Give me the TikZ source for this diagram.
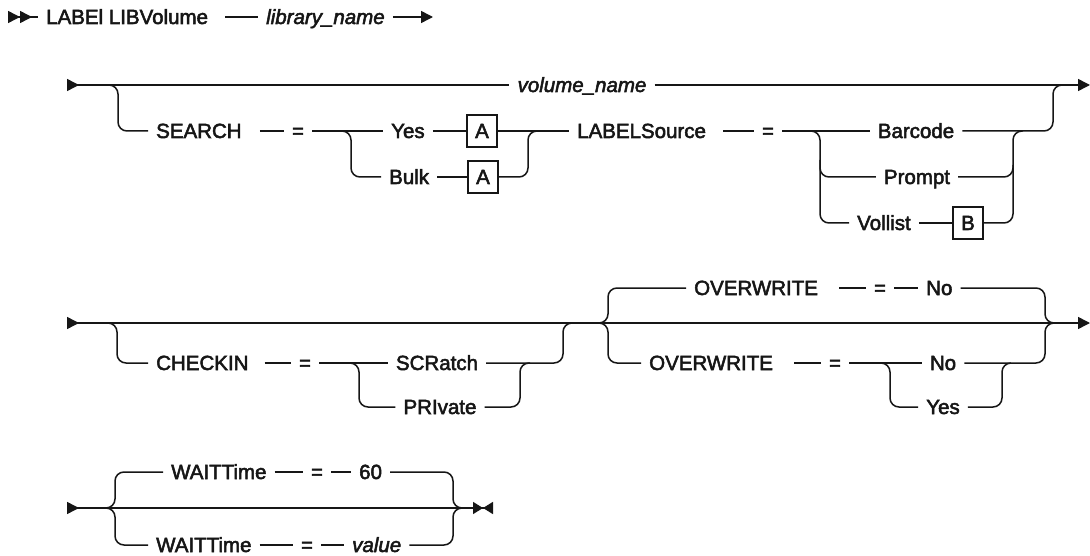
\documentclass[tikz,border=0pt]{standalone}
\usepackage{fontspec}
\setmainfont{Liberation Sans}[FakeBold=2.5]
\usetikzlibrary{arrows.meta}
\definecolor{inkdark}{RGB}{22, 22, 22}
\newcommand{\railfont}{\fontsize{20.5}{24}\selectfont}

\begin{document}
\begin{tikzpicture}[
    x=1pt, y=-1pt,
    kw/.style={font=\railfont, text=inkdark, inner xsep=8pt, inner ysep=0pt, text height=14pt, text depth=0pt},
    var/.style={kw, font=\railfont\itshape},
    refbox/.style={kw, draw=inkdark, line width=1.5pt, minimum width=30pt, minimum height=32pt, inner xsep=0pt},
    rail/.style={line width=1.5pt, draw=inkdark, rounded corners=9pt},
    railin/.style={rail, {Triangle[reversed, length=12pt, width=12pt]}-},
    railout/.style={rail, -{Triangle[length=12pt, width=12pt]}},
    railboth/.style={rail, {Triangle[reversed, length=12pt, width=12pt]}-{Triangle[length=12pt, width=12pt]}},
    railfirst/.style={rail, {Triangle[reversed, length=12pt, width=12pt]Triangle[reversed, length=12pt, width=12pt]}-},
    railstop/.style={rail, {Triangle[reversed, length=12pt, width=12pt]}-{Triangle[length=10pt, width=12pt]Triangle[reversed, length=10pt, width=12pt]}},
]
\useasboundingbox (0,0) rectangle (1090,556);

\coordinate (st1) at (8,17);
\coordinate (en1) at (433,17);
\node[kw, anchor=west] (lbl) at (38,17) {LABEl LIBVolume\kern9pt};
\node[var, anchor=west] (lib) at (258,17) {library\_name};

\draw[railfirst] (st1) -- (lbl.west);
\draw[rail] (lbl.east) -- (lib.west);
\draw[railout] (lib.east) -- (en1);

\coordinate (st2) at (67,85);
\coordinate (en2) at (1090,85);
\node[var] (vol) at (582,85) {volume\_name};

\coordinate (f2a) at (108,85);
\coordinate (f2b) at (118,131);
\node[kw, anchor=west] (srch) at (148,131) {SEARCH\kern10pt};
\node[kw] (eq1) at (298,131) {=};
\node[kw, anchor=west] (yes) at (383,131) {Yes};
\node[kw, anchor=west] (bulk) at (381,177) {Bulk};
\node[refbox] (boxa1) at (482,131) {A};
\node[refbox] (boxa2) at (483,177) {A};
\coordinate (f3a) at (341,131);
\coordinate (f3b) at (351,177);
\coordinate (j3a) at (528,131);
\coordinate (j3b) at (538,131);

\node[kw, anchor=west] (lbs) at (569,131) {LABELSource\kern9pt};
\node[kw] (eq2) at (768,131) {=};
\node[kw] (bar) at (916,131) {Barcode};
\node[kw] (prm) at (917,177) {Prompt};
\node[kw, anchor=west] (vll) at (849,223) {Vollist};
\node[refbox] (boxb) at (968,223) {B};
\coordinate (f4a) at (810,131);
\coordinate (f4b) at (820,223);
\coordinate (f4c) at (820,160);
\coordinate (j4a) at (1013,131);
\coordinate (j4b) at (1023,131);
\coordinate (j4c) at (1013,165);
\coordinate (j5a) at (1053,85);
\coordinate (j5b) at (1063,85);

\draw[railin] (st2) -- (vol.west);
\draw[railout] (vol.east) -- (en2);
\draw[rail] (f2a) -| (f2b) -- (srch.west);
\draw[rail] (srch.east) -- (eq1.west);
\draw[rail] (eq1.east) -- (yes.west);
\draw[rail] (f3a) -| (f3b) -- (bulk.west);
\draw[rail] (yes.east) -- (boxa1.west);
\draw[rail] (bulk.east) -- (boxa2.west);
\draw[rail] (boxa1.east) -- (lbs.west);
\draw[rail] (boxa2.east) -| (j3a) -- (j3b);
\draw[rail] (lbs.east) -- (eq2.west);
\draw[rail] (eq2.east) -- (bar.west);
\draw[rail] (f4a) -| (f4b) -- (vll.west);
\draw[rail] (f4c) |- (prm.west);
\draw[rail] (vll.east) -- (boxb.west);
\draw[rail] (boxb.east) -| (j4a) -- (j4b);
\draw[rail] (prm.east) -| (j4c);
\draw[rail] (bar.east) -| (j5a) -- (j5b);

\coordinate (st3) at (67,323);
\coordinate (en3) at (1090,323);
\coordinate (f5a) at (108,323);
\coordinate (f5b) at (117,363);
\node[kw, anchor=west] (chk) at (148,363) {CHECKIN\kern8pt};
\node[kw] (eq3) at (305,363) {=};
\node[kw] (scr) at (437,363) {SCRatch};
\node[kw] (prv) at (440,407) {PRIvate};
\coordinate (f6a) at (350,363);
\coordinate (f6b) at (359,407);
\coordinate (j6a) at (520,363);
\coordinate (j6b) at (530,363);
\coordinate (j7a) at (563,323);
\coordinate (j7b) at (572,323);

\coordinate (g1a) at (599,323);
\coordinate (g1b) at (608,288);
\coordinate (g1c) at (608,363);
\node[kw, anchor=west] (ow1) at (686,288) {OVERWRITE\kern13pt};
\node[kw] (eq4) at (880,288) {=};
\node[kw, anchor=west] (no1) at (918,288) {No};
\node[kw, anchor=west] (ow2) at (641,363) {OVERWRITE\kern13pt};
\node[kw] (eq5) at (835,363) {=};
\node[kw] (no2) at (943,363) {No};
\node[kw] (yes2) at (943,407) {Yes};
\coordinate (f7a) at (881,363);
\coordinate (f7b) at (890,407);
\coordinate (j8a) at (1002,363);
\coordinate (j8b) at (1011,363);
\coordinate (r1a) at (1045,323);
\coordinate (r1b) at (1054,323);

\draw[railboth] (st3) -- (en3);
\draw[rail] (f5a) -| (f5b) -- (chk.west);
\draw[rail] (chk.east) -- (eq3.west);
\draw[rail] (eq3.east) -- (scr.west);
\draw[rail] (f6a) -| (f6b) -- (prv.west);
\draw[rail] (prv.east) -| (j6a) -- (j6b);
\draw[rail] (scr.east) -| (j7a) -- (j7b);
\draw[rail] (g1a) -| (g1b) -- (ow1.west);
\draw[rail] (g1a) -| (g1c) -- (ow2.west);
\draw[rail] (ow1.east) -- (eq4.west);
\draw[rail] (eq4.east) -- (no1.west);
\draw[rail] (no1.east) -| (r1a) -- (r1b);
\draw[rail] (ow2.east) -- (eq5.west);
\draw[rail] (eq5.east) -- (no2.west);
\draw[rail] (f7a) -| (f7b) -- (yes2.west);
\draw[rail] (yes2.east) -| (j8a) -- (j8b);
\draw[rail] (no2.east) -| (r1a) -- (r1b);

\coordinate (st4) at (67,508);
\coordinate (en4) at (493,508);
\coordinate (g2a) at (106,508);
\coordinate (g2b) at (115,472);
\coordinate (g2c) at (115,545);
\node[kw, anchor=west] (wt1) at (163,472) {WAITTime};
\node[kw] (eq6) at (317,472) {=};
\node[kw, anchor=west] (n60) at (351,472) {60};
\node[kw, anchor=west] (wt2) at (148,545) {WAITTime};
\node[kw] (eq7) at (307,545) {=};
\node[var, anchor=west] (val) at (344,545) {value};
\coordinate (r3a) at (453,508);
\coordinate (r3b) at (462,508);

\draw[railstop] (st4) -- (en4);
\draw[rail] (g2a) -| (g2b) -- (wt1.west);
\draw[rail] (g2a) -| (g2c) -- (wt2.west);
\draw[rail] (wt1.east) -- (eq6.west);
\draw[rail] (eq6.east) -- (n60.west);
\draw[rail] (n60.east) -| (r3a) -- (r3b);
\draw[rail] (wt2.east) -- (eq7.west);
\draw[rail] (eq7.east) -- (val.west);
\draw[rail] (val.east) -| (r3a) -- (r3b);

\end{tikzpicture}
\end{document}
